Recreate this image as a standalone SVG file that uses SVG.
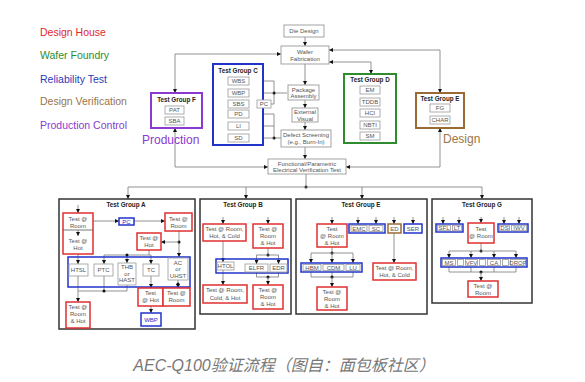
<svg xmlns="http://www.w3.org/2000/svg" width="585" height="382" viewBox="0 0 585 382">
<style>
text{font-family:"Liberation Sans",Arial,"Noto Sans CJK SC",sans-serif;}
.t{font-size:6px;fill:#555;text-anchor:middle}
.tb{font-size:6px;fill:#2233cc;text-anchor:middle}
.h{font-size:6.3px;font-weight:bold;fill:#222;text-anchor:middle}
.lg{font-size:10.5px}
.big{font-size:12px}
.ib{fill:#fff;stroke:#999;stroke-width:0.8}
.pb{fill:#fff;stroke:#999;stroke-width:0.9}
.red{fill:#fff;stroke:#e03030;stroke-width:1.5}
.blu{fill:#fff;stroke:#2233cc;stroke-width:1.5}
.bframe{fill:none;stroke:#2233cc;stroke-width:1.5}
.bro{fill:#fff;stroke:#9a6a35;stroke-width:1.5}
.grp{fill:none;stroke:#333;stroke-width:1.5}
.c{fill:none;stroke:#777;stroke-width:0.8}
.a{marker-end:url(#ah)}
.aa{marker-start:url(#ah);marker-end:url(#ah)}
.dot{fill:#111}
</style>
<defs>
<marker id="ah" viewBox="0 0 6 6" refX="6" refY="3" markerUnits="userSpaceOnUse" markerWidth="4" markerHeight="4" orient="auto-start-reverse"><path d="M0,0 L6,3 L0,6 z" fill="#111"/></marker>
</defs>
<rect width="585" height="382" fill="#fff"/>

<g id="legend">
<text class="lg" x="40" y="36" fill="#e02a2a">Design House</text>
<text class="lg" x="40" y="59" fill="#2e8b2e">Wafer Foundry</text>
<text class="lg" x="40" y="83" fill="#2a3bb8">Reliability Test</text>
<text class="lg" x="40" y="105" fill="#9a7548">Design Verification</text>
<text class="lg" x="40" y="129" fill="#8a3ad0">Production Control</text>
</g>

<g id="connectors">
<path class="c a" d="M305,37 V46"/>
<path class="c a" d="M305,64 V85"/>
<path class="c a" d="M305,100 V108"/>
<path class="c a" d="M305,122 V130"/>
<path class="c a" d="M305,147 V159"/>
<path class="c" d="M306,174 V187"/>
<circle class="dot" cx="306" cy="187" r="1.5"/>
<path class="c aa" d="M175,93 V54 H281"/>
<path class="c aa" d="M175,128 V167 H268"/>
<path class="c aa" d="M329,50 H440 V93"/>
<path class="c aa" d="M346,167 H440 V128"/>
<path class="c aa" d="M329,62 H371 V74"/>
<path class="c" d="M287,93 H274 M274,81 V104 H271"/>
<circle class="dot" cx="274" cy="93" r="1.5"/>
<path class="c a" d="M274,81 H249"/>
<path class="c a" d="M274,93 H249"/>
<path class="c a" d="M257,104 H249"/>
<path class="c" d="M281,138 H274 M274,114 V138"/>
<circle class="dot" cx="274" cy="138" r="1.5"/>
<path class="c a" d="M274,114 H249"/>
<path class="c a" d="M274,126 H249"/>
<path class="c a" d="M274,138 H249"/>
<path class="c aa" d="M128,199 V187 H482 V199"/>
<path class="c a" d="M246,187 V199"/>
<path class="c a" d="M362,187 V199"/>
<path class="c a" d="M78,205 V213"/>
<path class="c a" d="M78,230 V236"/>
<path class="c a" d="M93,221 H119"/>
<path class="c a" d="M134,221 H165"/>
<path class="c a" d="M179,231 V257"/>
<circle class="dot" cx="179" cy="242" r="1.5"/>
<path class="c a" d="M179,242 H161"/>
<path class="c" d="M149,250 V255"/>
<path class="c aa" d="M104,264 V255 H151 V264"/>
<path class="c a" d="M127,255 V263"/>
<circle class="dot" cx="127" cy="255" r="1.5"/>
<path class="c a" d="M78,254 V264"/>
<path class="c a" d="M78,276 V302"/>
<path class="c" d="M104,276 V291 M127,285 V291 M78,291 H127"/>
<circle class="dot" cx="104" cy="291" r="1.5"/>
<path class="c a" d="M151,276 V288"/>
<path class="c a" d="M178,280 V288"/>
<circle class="dot" cx="178" cy="284" r="1.5"/>
<path class="c a" d="M151,306 V313"/>
<path class="c a" d="M223,217 V224"/>
<path class="c a" d="M268,217 V224"/>
<path class="c a" d="M223,241 V262"/>
<path class="c a" d="M223,270 V285"/>
<path class="c" d="M268,248 V255"/>
<circle class="dot" cx="268" cy="255" r="1.5"/>
<path class="c aa" d="M256.5,264 V255 H278.5 V264"/>
<path class="c" d="M256.5,272 V277 H278.5 V272"/>
<circle class="dot" cx="268" cy="277" r="1.5"/>
<path class="c a" d="M268,277 V285"/>
<path class="c a" d="M332,217 V224"/>
<path class="c a" d="M358,217 V224"/>
<path class="c a" d="M376,217 V224"/>
<path class="c a" d="M394,217 V224"/>
<path class="c a" d="M413,217 V224"/>
<path class="c a" d="M394,233 V263"/>
<path class="c" d="M332,247 V253"/>
<circle class="dot" cx="332" cy="253" r="1.5"/>
<path class="c aa" d="M311,263 V253 H353 V263"/>
<path class="c a" d="M332,253 V263"/>
<path class="c" d="M311,272 V277 H353 V272 M332,272 V277"/>
<circle class="dot" cx="332" cy="277" r="1.5"/>
<path class="c a" d="M332,277 V287"/>
<path class="c a" d="M443,217 V224"/>
<path class="c a" d="M459,217 V224"/>
<path class="c a" d="M481,217 V223"/>
<path class="c a" d="M504,217 V224"/>
<path class="c a" d="M519,217 V224"/>
<path class="c" d="M481,243 V251"/>
<circle class="dot" cx="481" cy="251" r="1.5"/>
<path class="c aa" d="M449,258 V251 H516 V258"/>
<path class="c a" d="M471,251 V258"/>
<path class="c a" d="M494,251 V258"/>
<path class="c" d="M449,267 V272 H516 V267 M471,267 V272 M494,267 V272"/>
<circle class="dot" cx="481" cy="272" r="1.5"/>
<path class="c a" d="M481,272 V281"/>
</g>

<g id="die-design"><rect class="pb" x="284" y="25" width="40" height="12"/><text class="t" x="304" y="33.2">Die Design</text></g>
<g id="wafer-fab"><rect class="pb" x="281" y="46" width="48" height="18"/><text class="t" x="305" y="53.5">Wafer</text><text class="t" x="305" y="61">Fabrication</text></g>
<g id="package-assembly"><rect class="pb" x="288" y="85" width="31" height="15"/><text class="t" x="303.5" y="91.5">Package</text><text class="t" x="303.5" y="98">Assembly</text></g>
<g id="external-visual"><rect class="pb" x="292" y="108" width="26" height="14"/><text class="t" x="305" y="114">External</text><text class="t" x="305" y="120.5">Visual</text></g>
<g id="defect-screening"><rect class="pb" x="281" y="130" width="50" height="17"/><text class="t" x="306" y="137">Defect Screening</text><text class="t" x="306" y="144">(e.g., Burn-In)</text></g>
<g id="functional-test"><rect class="pb" x="268" y="159" width="78" height="15"/><text class="t" x="307" y="165.5">Functional/Parametric</text><text class="t" x="307" y="172">Electrical Verification Test</text></g>

<g id="test-group-f">
<rect x="151" y="93" width="51" height="35" fill="#fff" stroke="#8a3ad0" stroke-width="2"/>
<text class="h" x="176.5" y="101.5">Test Group F</text>
<rect class="ib" x="165" y="106" width="19" height="8"/><text class="t" x="174.5" y="112.2">PAT</text>
<rect class="ib" x="165" y="117" width="19" height="8"/><text class="t" x="174.5" y="123.2">SBA</text>
<text class="big" x="142" y="143.5" fill="#8a3ad0">Production</text>
</g>

<g id="test-group-c">
<rect x="213" y="64" width="50" height="81" fill="#fff" stroke="#2233cc" stroke-width="2"/>
<text class="h" x="238" y="72.5">Test Group C</text>
<rect class="ib" x="228" y="77" width="21" height="8"/><text class="t" x="238.5" y="83.2">WBS</text>
<rect class="ib" x="228" y="89" width="21" height="8"/><text class="t" x="238.5" y="95.2">WBP</text>
<rect class="ib" x="228" y="100" width="21" height="8"/><text class="t" x="238.5" y="106.2">SBS</text>
<rect class="ib" x="228" y="110" width="21" height="8"/><text class="t" x="238.5" y="116.2">PD</text>
<rect class="ib" x="228" y="122" width="21" height="8"/><text class="t" x="238.5" y="128.2">LI</text>
<rect class="ib" x="228" y="134" width="21" height="8"/><text class="t" x="238.5" y="140.2">SD</text>
</g>
<g id="pc-c"><rect class="ib" x="257" y="100" width="14" height="8"/><text class="t" x="264" y="106.2">PC</text></g>

<g id="test-group-d">
<rect x="344" y="74" width="52" height="69" fill="#fff" stroke="#2e8b2e" stroke-width="2"/>
<text class="h" x="370" y="82">Test Group D</text>
<rect class="ib" x="360" y="86" width="20" height="8"/><text class="t" x="370" y="92.2">EM</text>
<rect class="ib" x="360" y="98" width="20" height="8"/><text class="t" x="370" y="104.2">TDDB</text>
<rect class="ib" x="360" y="109" width="20" height="8"/><text class="t" x="370" y="115.2">HCI</text>
<rect class="ib" x="360" y="121" width="20" height="8"/><text class="t" x="370" y="127.2">NBTI</text>
<rect class="ib" x="360" y="132" width="20" height="8"/><text class="t" x="370" y="138.2">SM</text>
</g>

<g id="test-group-e-top">
<rect x="416" y="93" width="48" height="35" fill="#fff" stroke="#9a6a35" stroke-width="2"/>
<text class="h" x="440" y="100.5">Test Group E</text>
<rect class="ib" x="430" y="104" width="20" height="8"/><text class="t" x="440" y="110.2">FG</text>
<rect class="ib" x="430" y="116" width="20" height="8"/><text class="t" x="440" y="122.2">CHAR</text>
<text class="big" x="443" y="142.5" fill="#9a7548">Design</text>
</g>

<g id="test-group-a">
<rect class="grp" x="59" y="199" width="136" height="130"/>
<text class="h" x="126" y="206.5">Test Group A</text>
</g>
<g id="a-room-hot">
<rect class="red" x="63" y="213" width="30" height="41"/>
<path d="M63,230 H93" stroke="#555" stroke-width="0.8"/>
<path class="c a" d="M78,230 V236"/>
<text class="t" x="78" y="221">Test @</text><text class="t" x="78" y="228">Room</text>
<text class="t" x="78" y="243">Test @</text><text class="t" x="78" y="250">Hot</text>
</g>
<g id="a-pc"><rect class="blu" x="119" y="218" width="15" height="7"/><text class="tb" x="126.5" y="223.8">PC</text></g>
<g id="a-room-r"><rect class="red" x="165" y="213" width="27" height="18"/><text class="t" x="178.5" y="220.5">Test @</text><text class="t" x="178.5" y="227.5">Room</text></g>
<g id="a-hot"><rect class="red" x="137" y="233" width="24" height="17"/><text class="t" x="149" y="240">Test @</text><text class="t" x="149" y="247">Hot</text></g>
<g id="a-reliability">
<rect class="bframe" x="68" y="257" width="122" height="30"/>
<rect class="ib" x="69" y="264" width="19" height="12"/><text class="t" x="78.5" y="272">HTSL</text>
<rect class="ib" x="94" y="264" width="19" height="12"/><text class="t" x="103.5" y="272">PTC</text>
<rect class="ib" x="118" y="263" width="18" height="22"/><text class="t" x="127" y="269">THB</text><text class="t" x="127" y="275.5">or</text><text class="t" x="127" y="282">HAST</text>
<rect class="ib" x="143" y="264" width="16" height="12"/><text class="t" x="151" y="272">TC</text>
<rect class="ib" x="168" y="258" width="20" height="22"/><text class="t" x="178" y="264.5">AC</text><text class="t" x="178" y="271">or</text><text class="t" x="178" y="277.5">UHST</text>
</g>
<g id="a-room-hot-bottom"><rect class="red" x="66" y="302" width="24" height="26"/><text class="t" x="78" y="309">Test @</text><text class="t" x="78" y="316">Room</text><text class="t" x="78" y="323">&amp; Hot</text></g>
<g id="a-hot-bottom"><rect class="red" x="138" y="288" width="25" height="18"/><text class="t" x="150.5" y="295">Test</text><text class="t" x="150.5" y="302">@ Hot</text></g>
<g id="a-room-bottom"><rect class="red" x="163" y="288" width="27" height="18"/><text class="t" x="176.5" y="295">Test @</text><text class="t" x="176.5" y="302">Room</text></g>
<g id="a-wbp"><rect class="blu" x="141" y="313" width="20" height="13"/><text class="tb" x="151" y="321.5">WBP</text></g>

<g id="test-group-b">
<rect class="grp" x="200" y="199" width="91" height="115"/>
<text class="h" x="243" y="206.5">Test Group B</text>
</g>
<g id="b-rhc"><rect class="red" x="203" y="224" width="43" height="17"/><text class="t" x="224.5" y="231">Test @ Room,</text><text class="t" x="224.5" y="238">Hot, &amp; Cold</text></g>
<g id="b-rh"><rect class="red" x="253" y="224" width="30" height="24"/><text class="t" x="268" y="231">Test @</text><text class="t" x="268" y="238">Room</text><text class="t" x="268" y="245">&amp; Hot</text></g>
<g id="b-reliability">
<rect class="bframe" x="216" y="259" width="72" height="14"/>
<rect class="ib" x="217" y="262" width="17" height="8"/><text class="t" x="225.5" y="268.2">HTOL</text>
<rect class="ib" x="245" y="264" width="23" height="8"/><text class="t" x="256.5" y="270.2">ELFR</text>
<rect class="ib" x="270" y="264" width="17" height="8"/><text class="t" x="278.5" y="270.2">EDR</text>
</g>
<g id="b-rch"><rect class="red" x="203" y="285" width="44" height="18"/><text class="t" x="225" y="292">Test @ Room,</text><text class="t" x="225" y="299.5">Cold, &amp; Hot</text></g>
<g id="b-rh2"><rect class="red" x="253" y="285" width="30" height="24"/><text class="t" x="268" y="292">Test @</text><text class="t" x="268" y="299">Room</text><text class="t" x="268" y="306">&amp; Hot</text></g>

<g id="test-group-e">
<rect class="grp" x="296" y="199" width="131" height="115"/>
<text class="h" x="361" y="206.5">Test Group E</text>
</g>
<g id="e-rh"><rect class="red" x="317" y="224" width="30" height="23"/><text class="t" x="332" y="230.5">Test</text><text class="t" x="332" y="237.5">@ Room</text><text class="t" x="332" y="244.5">&amp; Hot</text></g>
<g id="e-emc-sc"><rect class="blu" x="349" y="224" width="36" height="9"/><rect class="ib" x="351" y="225.5" width="16" height="6"/><rect class="ib" x="369" y="225.5" width="14" height="6"/><text class="t" x="359" y="230.7">EMC</text><text class="t" x="376" y="230.7">SC</text></g>
<g id="e-ed"><rect class="bro" x="388" y="224" width="13" height="9"/><text class="t" x="394.5" y="230.7">ED</text></g>
<g id="e-ser"><rect class="blu" x="404" y="224" width="18" height="9"/><text class="t" x="413" y="230.7">SER</text></g>
<g id="e-rhc"><rect class="red" x="373" y="263" width="43" height="17"/><text class="t" x="394.5" y="270">Test @ Room,</text><text class="t" x="394.5" y="277">Hot, &amp; Cold</text></g>
<g id="e-esd">
<rect class="blu" x="301" y="263" width="61" height="9"/>
<rect class="ib" x="303" y="264.5" width="18" height="6"/><rect class="ib" x="323" y="264.5" width="21" height="6"/><rect class="ib" x="346" y="264.5" width="14" height="6"/>
<text class="t" x="312" y="269.7">HBM</text><text class="t" x="333.5" y="269.7">CDM</text><text class="t" x="353" y="269.7">LU</text>
</g>
<g id="e-rh2"><rect class="red" x="317" y="287" width="30" height="23"/><text class="t" x="332" y="294">Test @</text><text class="t" x="332" y="301">Room</text><text class="t" x="332" y="308">&amp; Hot</text></g>

<g id="test-group-g">
<rect class="grp" x="432" y="199" width="100" height="104"/>
<text class="h" x="482" y="206.5">Test Group G</text>
</g>
<g id="g-sfl-lt"><rect class="blu" x="436" y="224" width="27" height="8"/><rect class="ib" x="437.5" y="225.3" width="13" height="5.4"/><rect class="ib" x="452.5" y="225.3" width="9" height="5.4"/><text class="t" x="444" y="230.2">SFL</text><text class="t" x="457" y="230.2">LT</text></g>
<g id="g-room"><rect class="red" x="468" y="223" width="26" height="20"/><text class="t" x="481" y="230.5">Test</text><text class="t" x="481" y="238">@ Room</text></g>
<g id="g-ds-iwv"><rect class="blu" x="498" y="224" width="30" height="8"/><rect class="ib" x="499.5" y="225.3" width="10" height="5.4"/><rect class="ib" x="511.5" y="225.3" width="15" height="5.4"/><text class="t" x="504.5" y="230.2">DS</text><text class="t" x="519" y="230.2">IWV</text></g>
<g id="g-package">
<rect class="blu" x="441" y="258" width="86" height="9"/>
<rect class="ib" x="442.5" y="259.5" width="13" height="6"/><rect class="ib" x="457.5" y="259.5" width="6" height="6"/>
<rect class="ib" x="465.5" y="259.5" width="12" height="6"/><rect class="ib" x="479.5" y="259.5" width="6" height="6"/>
<rect class="ib" x="487.5" y="259.5" width="13" height="6"/><rect class="ib" x="502.5" y="259.5" width="6" height="6"/>
<rect class="ib" x="510.5" y="259.5" width="15" height="6"/>
<text class="t" x="449" y="264.7">MS</text><text class="t" x="471.5" y="264.7">VFV</text><text class="t" x="494" y="264.7">CA</text><text class="t" x="518" y="264.7">DROP</text>
</g>
<g id="g-room2"><rect class="red" x="468" y="281" width="30" height="16"/><text class="t" x="483" y="287.8">Test @</text><text class="t" x="483" y="294.5">Room</text></g>

<text x="284" y="371" font-size="16" font-style="italic" fill="#777" text-anchor="middle" font-family="'Liberation Sans','Noto Sans CJK SC',sans-serif">AEC-Q100验证流程（图自：面包板社区）</text>
</svg>
